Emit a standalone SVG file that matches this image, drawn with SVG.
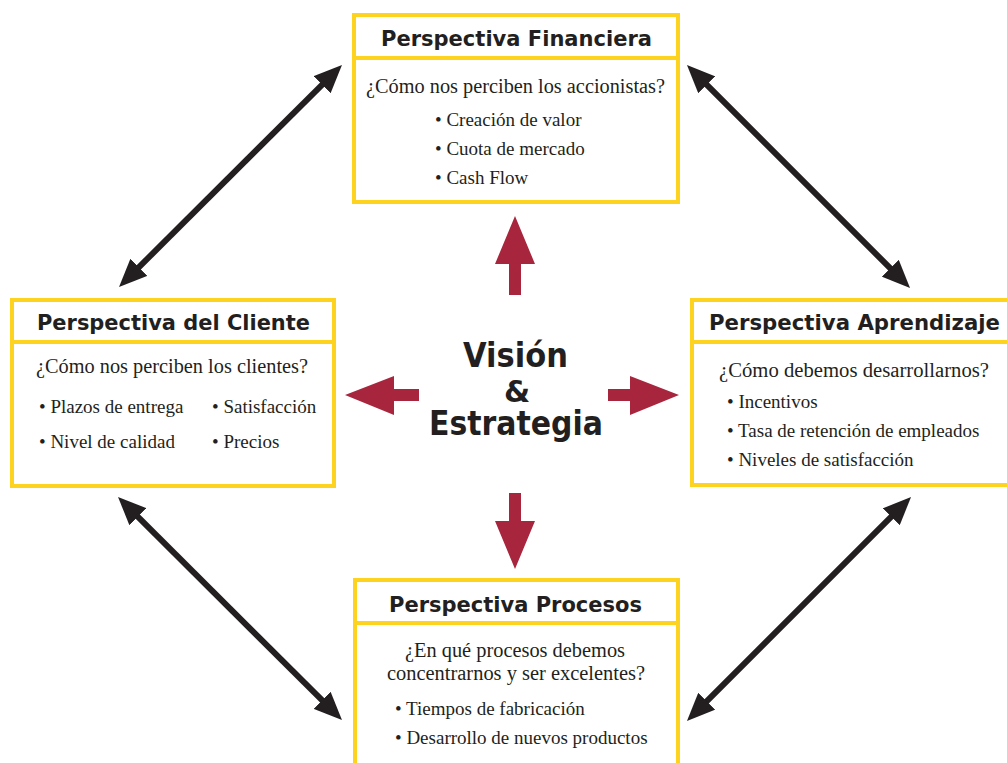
<svg xmlns="http://www.w3.org/2000/svg" width="1007" height="763" viewBox="0 0 1007 763">
  <style>
    .box { fill: #ffffff; stroke: #FDD31F; stroke-width: 4; }
    .sep { stroke: #FDD31F; stroke-width: 4; }
    .title { font-family: "DejaVu Sans", Verdana, sans-serif; font-weight: bold; font-size: 21px; fill: #231F20; }
    .ask { font-family: "Liberation Serif", "Times New Roman", serif; font-size: 20px; fill: #231F20; }
    .item { font-family: "Liberation Serif", "Times New Roman", serif; font-size: 19px; fill: #231F20; }
    .core { font-family: "DejaVu Sans", Verdana, sans-serif; font-weight: bold; font-size: 33px; fill: #231F20; }
    .amp { font-family: "DejaVu Sans", Verdana, sans-serif; font-weight: bold; font-size: 30px; fill: #231F20; }
    .link { stroke: #231F20; stroke-width: 6; fill: none; marker-start: url(#head); marker-end: url(#head); }
    .push { fill: #A8263D; }
  </style>
  <defs>
    <marker id="head" viewBox="0 0 28 24" refX="8" refY="12" markerWidth="28" markerHeight="24" markerUnits="userSpaceOnUse" orient="auto-start-reverse">
      <path d="M0,0 L28,12 L0,24 z" fill="#231F20"/>
    </marker>
  </defs>

  <rect width="1007" height="763" fill="#ffffff"/>

  <!-- diagonal links between the four perspectives -->
  <g id="connectors">
    <line class="link" x1="133.2" y1="272.9" x2="327.8" y2="79.1"/>
    <line class="link" x1="701.1" y1="79.1" x2="895.9" y2="273.9"/>
    <line class="link" x1="132.2" y1="511.1" x2="327.8" y2="705.9"/>
    <line class="link" x1="896.9" y1="511.1" x2="701.1" y2="706.9"/>
  </g>

  <!-- centre: vision and strategy with four red arrows -->
  <g id="vision">
    <polygon class="push" points="515,216 535,264 521,264 521,295 509,295 509,264 495,264"/>
    <polygon class="push" points="345,395 394,376 394,389 419,389 419,401 394,401 394,415"/>
    <polygon class="push" points="679,395 630,376 630,389 608,389 608,401 630,401 630,415"/>
    <polygon class="push" points="515,569 535,521 521,521 521,493 509,493 509,521 495,521"/>
    <text class="core" x="463" y="367" textLength="105" lengthAdjust="spacingAndGlyphs">Visión</text>
    <text class="amp" x="517" y="402" text-anchor="middle">&amp;</text>
    <text class="core" x="429" y="435" textLength="174" lengthAdjust="spacingAndGlyphs">Estrategia</text>
  </g>

  <g id="financiera">
    <rect class="box" x="354" y="15" width="324" height="187"/>
    <line class="sep" x1="354" y1="58" x2="678" y2="58"/>
    <text class="title" x="381" y="46" textLength="271" lengthAdjust="spacingAndGlyphs">Perspectiva Financiera</text>
    <text class="ask" x="366" y="93" textLength="299" lengthAdjust="spacingAndGlyphs">¿Cómo nos perciben los accionistas?</text>
    <text class="item" x="435" y="126">• Creación de valor</text>
    <text class="item" x="435" y="155">• Cuota de mercado</text>
    <text class="item" x="435" y="184">• Cash Flow</text>
  </g>

  <g id="cliente">
    <rect class="box" x="12" y="300" width="322" height="186"/>
    <line class="sep" x1="12" y1="342" x2="334" y2="342"/>
    <text class="title" x="37" y="330" textLength="273" lengthAdjust="spacingAndGlyphs">Perspectiva del Cliente</text>
    <text class="ask" x="36" y="373" textLength="272" lengthAdjust="spacingAndGlyphs">¿Cómo nos perciben los clientes?</text>
    <text class="item" x="39" y="413">• Plazos de entrega</text>
    <text class="item" x="212" y="413">• Satisfacción</text>
    <text class="item" x="39" y="448">• Nivel de calidad</text>
    <text class="item" x="212" y="448">• Precios</text>
  </g>

  <g id="aprendizaje">
    <rect class="box" x="692" y="300" width="330" height="185"/>
    <line class="sep" x1="692" y1="342" x2="1010" y2="342"/>
    <text class="title" x="709" y="330" textLength="291" lengthAdjust="spacingAndGlyphs">Perspectiva Aprendizaje</text>
    <text class="ask" x="719" y="377" textLength="270" lengthAdjust="spacingAndGlyphs">¿Cómo debemos desarrollarnos?</text>
    <text class="item" x="727" y="408">• Incentivos</text>
    <text class="item" x="727" y="437">• Tasa de retención de empleados</text>
    <text class="item" x="727" y="466">• Niveles de satisfacción</text>
  </g>

  <g id="procesos">
    <rect class="box" x="355" y="580" width="323" height="200"/>
    <line class="sep" x1="355" y1="623" x2="678" y2="623"/>
    <text class="title" x="389" y="612" textLength="253" lengthAdjust="spacingAndGlyphs">Perspectiva Procesos</text>
    <text class="ask" x="405" y="657" textLength="220" lengthAdjust="spacingAndGlyphs">¿En qué procesos debemos</text>
    <text class="ask" x="387" y="680" textLength="258" lengthAdjust="spacingAndGlyphs">concentrarnos y ser excelentes?</text>
    <text class="item" x="395" y="715">• Tiempos de fabricación</text>
    <text class="item" x="395" y="744">• Desarrollo de nuevos productos</text>
  </g>
</svg>
